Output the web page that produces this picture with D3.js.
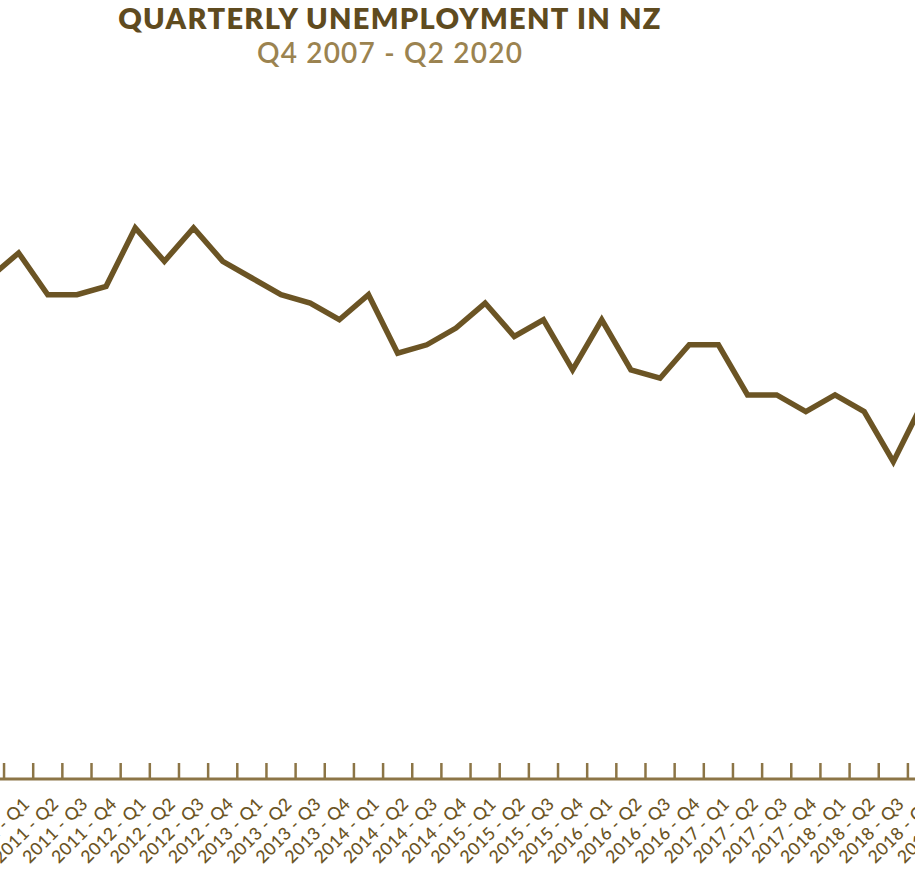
<!DOCTYPE html>
<html>
<head>
<meta charset="utf-8">
<script src="https://cdn.jsdelivr.net/npm/d3@7"></script>
<style>
  html, body { margin: 0; padding: 0; background: #fff; overflow: hidden; }
  #myChart { width: 915px; height: 878px; }
</style>
</head>
<body>
<div id="myChart"></div>
<script>
// kuartal (kategori)
const quarters = [
  "2007 - Q4",
  "2008 - Q1", "2008 - Q2", "2008 - Q3", "2008 - Q4",
  "2009 - Q1", "2009 - Q2", "2009 - Q3", "2009 - Q4",
  "2010 - Q1", "2010 - Q2", "2010 - Q3", "2010 - Q4",
  "2011 - Q1", "2011 - Q2", "2011 - Q3", "2011 - Q4",
  "2012 - Q1", "2012 - Q2", "2012 - Q3", "2012 - Q4",
  "2013 - Q1", "2013 - Q2", "2013 - Q3", "2013 - Q4",
  "2014 - Q1", "2014 - Q2", "2014 - Q3", "2014 - Q4",
  "2015 - Q1", "2015 - Q2", "2015 - Q3", "2015 - Q4",
  "2016 - Q1", "2016 - Q2", "2016 - Q3", "2016 - Q4",
  "2017 - Q1", "2017 - Q2", "2017 - Q3", "2017 - Q4",
  "2018 - Q1", "2018 - Q2", "2018 - Q3", "2018 - Q4",
  "2019 - Q1", "2019 - Q2", "2019 - Q3", "2019 - Q4",
  "2020 - Q1", "2020 - Q2"
];

// tingkat pengangguran (%)
const rates = [
  3.3,
  3.7, 3.8, 4.1, 4.5,
  4.9, 5.7, 6.2, 6.5,
  5.9, 6.4, 6.1, 6.0,
  6.3, 5.8, 5.8, 5.9,
  6.6, 6.2, 6.6, 6.2,
  6.0, 5.8, 5.7, 5.5,
  5.8, 5.1, 5.2, 5.4,
  5.7, 5.3, 5.5, 4.9,
  5.5, 4.9, 4.8, 5.2,
  5.2, 4.6, 4.6, 4.4,
  4.6, 4.4, 3.8, 4.5,
  4.1, 3.9, 4.0, 3.9,
  4.1, 3.9
];

const title = "QUARTERLY UNEMPLOYMENT IN NZ";
const subtitle = "Q4 2007 - Q2 2020";

const data = quarters.map((q, i) => ({ quarter: q, rate: rates[i] }));

// the chart is wider than the window, only the middle part is visible
const margin = { top: 0, right: 0, bottom: 99, left: -375 },
  fullWidth = 915,
  fullHeight = 878,
  plotWidth = 1487,
  height = fullHeight - margin.bottom;

const lineColor = "#6b5424";
const axisColor = "#8c7546";
const fontFamily = "Lato, 'Noto Sans', sans-serif";

const svg = d3
  .select("#myChart")
  .append("svg")
  .attr("width", fullWidth)
  .attr("height", fullHeight);

const g = svg
  .append("g")
  .attr("transform", "translate(" + margin.left + "," + margin.top + ")");

// skala x dan y
const x = d3.scaleBand().domain(quarters).range([0, plotWidth]).padding(0);

const y = d3.scaleLinear().domain([0, 7]).range([height, height - 7 * 83.5]);

// garis data
const line = d3
  .line()
  .x((d) => x(d.quarter) + x.bandwidth() / 2)
  .y((d) => y(d.rate));

g.append("path")
  .datum(data)
  .attr("fill", "none")
  .attr("stroke", lineColor)
  .attr("stroke-width", 5.5)
  .attr("d", line);

// sumbu x
const axis = g.append("g").attr("class", "x-axis");

axis
  .append("line")
  .attr("x1", x.range()[0])
  .attr("x2", x.range()[1])
  .attr("y1", y(0))
  .attr("y2", y(0))
  .attr("stroke", axisColor)
  .attr("stroke-width", 3);

const edges = quarters.map((q) => x(q)).concat([x.range()[1]]);

axis
  .selectAll(".tick")
  .data(edges)
  .enter()
  .append("line")
  .attr("class", "tick")
  .attr("x1", (d) => d)
  .attr("x2", (d) => d)
  .attr("y1", y(0))
  .attr("y2", y(0) - 16)
  .attr("stroke", axisColor)
  .attr("stroke-width", 2.5);

axis
  .selectAll(".label")
  .data(quarters)
  .enter()
  .append("text")
  .attr("class", "label")
  .attr(
    "transform",
    (d) =>
      "translate(" + (x(d) + x.bandwidth() / 2 + 12) + "," + (y(0) + 26) + ") rotate(-45)"
  )
  .style("text-anchor", "end")
  .style("font-family", fontFamily)
  .style("font-size", "17.5px")
  .style("font-weight", "500")
  .style("letter-spacing", "0.4px")
  .attr("fill", lineColor)
  .text((d) => d);

// judul
svg
  .append("text")
  .attr("x", 390)
  .attr("y", 29)
  .style("text-anchor", "middle")
  .style("font-family", fontFamily)
  .style("font-size", "29px")
  .style("font-weight", "800")
  .style("letter-spacing", "1.3px")
  .attr("fill", "#5f4b1f")
  .text(title);

svg
  .append("text")
  .attr("x", 390)
  .attr("y", 63)
  .style("text-anchor", "middle")
  .style("font-family", fontFamily)
  .style("font-size", "28px")
  .style("font-weight", "600")
  .style("letter-spacing", "1.2px")
  .attr("fill", "#9b8350")
  .text(subtitle);
</script>
</body>
</html>
